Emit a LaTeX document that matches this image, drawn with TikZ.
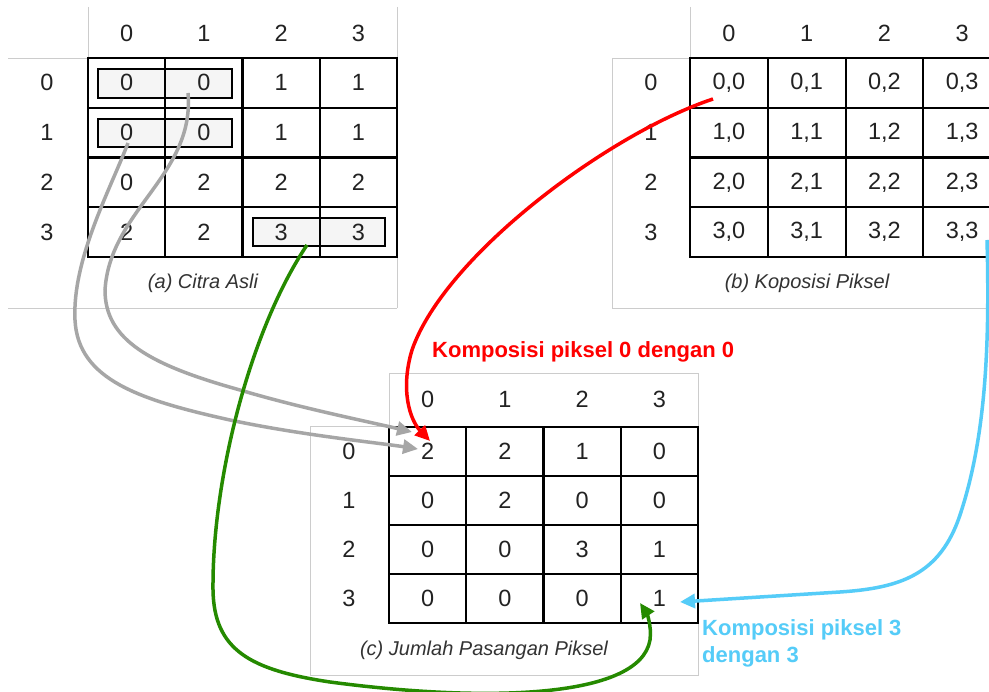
\documentclass[tikz,border=0pt]{standalone}
\usepackage{fontspec}
\setmainfont{Liberation Sans}
\usetikzlibrary{arrows.meta}
\definecolor{txt}{HTML}{222222}
\definecolor{captxt}{HTML}{333333}
\definecolor{panel}{HTML}{CCCCCC}
\definecolor{hlfill}{HTML}{F5F5F5}
\definecolor{arrgray}{HTML}{A6A6A6}
\definecolor{arrred}{HTML}{FF0000}
\definecolor{arrgreen}{HTML}{258A00}
\definecolor{arrcyan}{HTML}{55CCF8}
\begin{document}
\begin{tikzpicture}[x=1pt,y=-1pt,
  cellbox/.style={draw=black, line width=2pt, minimum width=#1, minimum height=49.7pt, inner sep=0pt, font=\fontsize{23.5}{28}\selectfont, text=txt},
  cellbox/.default=77.3pt,
  headlbl/.style={inner sep=0pt, font=\fontsize{23.5}{28}\selectfont, text=txt},
  caplbl/.style={inner sep=0pt, font=\fontsize{20}{24}\selectfont\itshape, text=captxt},
  panelline/.style={draw=panel, line width=0.9pt},
  hlbox/.style={draw=black, line width=1.6pt},
  conn/.style={line width=3.5pt, -{Triangle[length=15pt,width=14pt]}},
  notelbl/.style={inner sep=0pt, font=\fontsize{22}{27}\selectfont\bfseries, align=left}]
\useasboundingbox (0,0) rectangle (989,692);
\clip (0,0) rectangle (989,692);
\fill[white] (0,0) rectangle (989,692);

% ---------- panel (a) ----------
\draw[panelline] (88,7) -- (88,58) (8,58) -- (88,58) (397,7) -- (397,308) (8,308) -- (397,308);
\fill[hlfill] (98,69) rectangle (232,98);
\fill[hlfill] (98,119) rectangle (232,147);
\fill[hlfill] (253,218) rectangle (385,246);
\foreach \r/\vals in {0/{0,0,1,1},1/{0,0,1,1},2/{0,2,2,2},3/{2,2,3,3}}{
  \foreach \v [count=\c from 0] in \vals {
    \node[cellbox] (a\r\c) at ({126.6+77.25*\c},{82.9+49.75*\r}) {};
  }
}
\draw[hlbox] (98,69) rectangle (232,98);
\draw[hlbox] (98,119) rectangle (232,147);
\draw[hlbox] (253,218) rectangle (385,246);
\foreach \r/\vals in {0/{0,0,1,1},1/{0,0,1,1},2/{0,2,2,2},3/{2,2,3,3}}{
  \foreach \v [count=\c from 0] in \vals {
    \node[headlbl] (at\r\c) at (a\r\c) {\v};
  }
}
\foreach \c in {0,...,3}{
  \node[headlbl] (ah\c) at ({126.6+77.25*\c},33) {\c};
  \node[headlbl] (ar\c) at (47,{82.9+49.75*\c}) {\c};
}
\node[caplbl] (capa) at (203,283) {(a) Citra Asli};

% ---------- panel (b) ----------
\draw[panelline] (690,7) -- (690,58) (612,58) -- (690,58) (612,58) -- (612,308) -- (989,308);
\foreach \r in {0,...,3}{
  \foreach \c in {0,...,3}{
    \node[cellbox=77.75pt] (b\r\c) at ({728.9+77.75*\c},{82.9+49.75*\r}) {\r,\c};
  }
}
\foreach \c in {0,...,3}{
  \node[headlbl] (bh\c) at ({728.9+77.75*\c},33) {\c};
  \node[headlbl] (br\c) at (651,{82.9+49.75*\c}) {\c};
}
\node[caplbl] (capb) at (807,283) {(b) Koposisi Piksel};

% ---------- panel (c) ----------
\draw[panelline] (389,373) -- (698,373) -- (698,675) -- (310,675) -- (310,426) -- (389,426) -- (389,373);
\foreach \r/\vals in {0/{2,2,1,0},1/{0,2,0,0},2/{0,0,3,1},3/{0,0,0,1}}{
  \foreach \v [count=\c from 0] in \vals {
    \node[cellbox, minimum height=49pt] (c\r\c) at ({427.6+77.25*\c},{451.5+49*\r}) {\v};
  }
}
\foreach \c in {0,...,3}{
  \node[headlbl] (ch\c) at ({427.6+77.25*\c},399) {\c};
  \node[headlbl] (cr\c) at (349,{451.5+49*\c}) {\c};
}
\node[caplbl] (capc) at (484,650) {(c) Jumlah Pasangan Piksel};

% ---------- labels ----------
\node[notelbl, text=arrred, anchor=west] (lred) at (432,352) {Komposisi piksel 0 dengan 0};
\node[notelbl, text=arrcyan, anchor=west] (lcyan) at (702,643) {Komposisi piksel 3\\dengan 3};

% ---------- connector end points ----------
\coordinate (g1s) at (128,143);
\coordinate (g1e) at (418,449);
\coordinate (g2s) at (188,93);
\coordinate (g2e) at (412,432);
\coordinate (rs) at (713,99);
\coordinate (re) at (430,441);
\coordinate (gs) at (307,245);
\coordinate (ge) at (640,603);
\coordinate (cs) at (987,240);
\coordinate (ce) at (680,602);

% ---------- connectors ----------
\draw[conn, arrgray] (g1s) .. controls (110,190) and (72,260) .. (75,320)
  .. controls (78,380) and (140,400) .. (230,420)
  .. controls (300,435) and (380,443) .. (g1e);
\draw[conn, arrgray] (g2s) .. controls (195,175) and (110,210) .. (105,290)
  .. controls (105,340) and (150,365) .. (240,390)
  .. controls (300,408) and (370,422) .. (g2e);
\draw[conn, arrred] (rs) .. controls (610,133) and (445,255) .. (412,350)
  .. controls (400,390) and (410,420) .. (re);
\draw[conn, arrgreen] (gs) .. controls (250,330) and (212,480) .. (213,590)
  .. controls (214,650) and (250,670) .. (330,682)
  .. controls (480,702) and (640,700) .. (650,640)
  .. controls (652,625) and (646,612) .. (ge);
\draw[conn, arrcyan] (cs) .. controls (990,350) and (985,440) .. (960,515)
  .. controls (940,575) and (900,588) .. (840,592)
  -- (ce);
\end{tikzpicture}
\end{document}
